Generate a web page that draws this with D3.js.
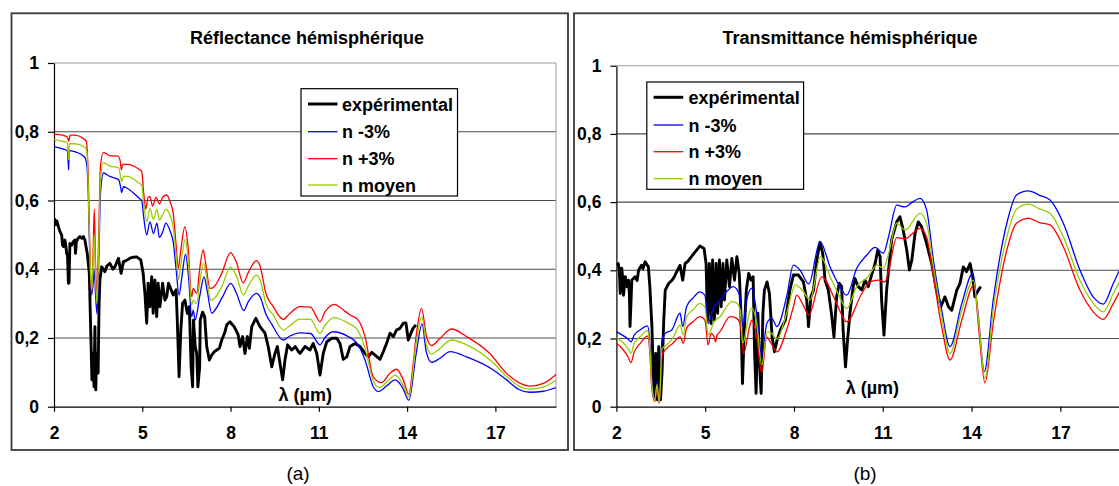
<!DOCTYPE html>
<html>
<head>
<meta charset="utf-8">
<script src="https://cdn.jsdelivr.net/npm/d3@7"></script>
<style>
  html, body { margin: 0; padding: 0; background: #fff; }
  svg { display: block; font-family: "Liberation Sans", Arial, sans-serif; }
</style>
</head>
<body>
<svg id="chart" width="1119" height="486"></svg>
<script>
// ---------------- DATA ----------------
const xTicks = [2, 5, 8, 11, 14, 17];
const yTicks = [0, 0.2, 0.4, 0.6, 0.8, 1];
const seriesNames = ["expérimental", "n -3%", "n +3%", "n moyen"];
const seriesColors = ["#000000", "#0000ff", "#ff0000", "#99cc00"];
const panelTitles = ["Réflectance hémisphérique", "Transmittance hémisphérique"];
const panelLabels = ["(a)", "(b)"];
const axisTitle = "λ (µm)";

// Reflectance (a)
const reflExp = [[2.02,0.548],[2.06,0.53],[2.1,0.54],[2.15,0.524],[2.2,0.51],[2.26,0.50],[2.29,0.47],[2.32,0.466],[2.37,0.485],[2.4,0.47],[2.43,0.446],[2.46,0.44],[2.49,0.359],[2.51,0.36],[2.54,0.475],[2.6,0.47],[2.65,0.48],[2.71,0.485],[2.73,0.446],[2.76,0.48],[2.82,0.49],[2.88,0.495],[2.95,0.49],[3.0,0.495],[3.05,0.485],[3.13,0.446],[3.2,0.388],[3.25,0.214],[3.29,0.078],[3.32,0.155],[3.36,0.058],[3.39,0.233],[3.42,0.049],[3.45,0.155],[3.5,0.098],[3.53,0.291],[3.56,0.369],[3.62,0.407],[3.73,0.393],[3.8,0.41],[3.9,0.417],[4.0,0.40],[4.07,0.407],[4.19,0.432],[4.28,0.388],[4.36,0.422],[4.45,0.425],[4.58,0.432],[4.7,0.435],[4.81,0.436],[4.95,0.427],[5.03,0.388],[5.09,0.33],[5.15,0.243],[5.2,0.359],[5.26,0.291],[5.32,0.378],[5.37,0.272],[5.43,0.369],[5.49,0.262],[5.54,0.359],[5.6,0.291],[5.69,0.359],[5.77,0.31],[5.83,0.32],[5.89,0.359],[5.94,0.349],[6.05,0.325],[6.15,0.34],[6.19,0.252],[6.25,0.087],[6.31,0.223],[6.37,0.301],[6.45,0.31],[6.53,0.272],[6.6,0.291],[6.66,0.116],[6.71,0.058],[6.74,0.252],[6.8,0.175],[6.85,0.155],[6.89,0.058],[6.95,0.116],[6.97,0.252],[7.05,0.275],[7.12,0.262],[7.19,0.175],[7.28,0.136],[7.36,0.15],[7.45,0.16],[7.53,0.165],[7.62,0.17],[7.7,0.194],[7.8,0.215],[7.87,0.238],[7.98,0.247],[8.05,0.24],[8.12,0.233],[8.2,0.22],[8.26,0.209],[8.32,0.175],[8.41,0.204],[8.49,0.155],[8.57,0.204],[8.64,0.17],[8.72,0.233],[8.86,0.257],[9.0,0.233],[9.17,0.214],[9.28,0.175],[9.4,0.116],[9.51,0.155],[9.59,0.175],[9.68,0.126],[9.77,0.078],[9.85,0.136],[9.94,0.18],[10.08,0.165],[10.2,0.175],[10.31,0.16],[10.36,0.155],[10.53,0.175],[10.7,0.165],[10.81,0.184],[10.93,0.155],[11.04,0.092],[11.15,0.155],[11.27,0.189],[11.44,0.199],[11.61,0.199],[11.72,0.184],[11.83,0.138],[11.95,0.145],[12.06,0.175],[12.23,0.184],[12.4,0.175],[12.57,0.155],[12.68,0.145],[12.8,0.158],[12.91,0.15],[13.08,0.138],[13.19,0.16],[13.3,0.184],[13.42,0.214],[13.53,0.204],[13.64,0.223],[13.76,0.228],[13.87,0.243],[13.96,0.244],[14.04,0.194],[14.13,0.214],[14.2,0.228],[14.3,0.238]];
const reflMinus = [[2.0,0.757],[2.3,0.75],[2.45,0.745],[2.49,0.70],[2.5,0.689],[2.51,0.745],[2.7,0.742],[3.05,0.725],[3.12,0.70],[3.17,0.6],[3.22,0.42],[3.28,0.325],[3.33,0.36],[3.37,0.40],[3.41,0.33],[3.46,0.27],[3.52,0.42],[3.58,0.62],[3.68,0.68],[3.9,0.67],[4.2,0.66],[4.26,0.64],[4.3,0.623],[4.36,0.64],[4.5,0.635],[4.9,0.606],[4.98,0.6],[5.05,0.55],[5.15,0.5],[5.26,0.538],[5.38,0.504],[5.5,0.534],[5.58,0.493],[5.7,0.51],[5.8,0.534],[5.95,0.51],[6.05,0.48],[6.15,0.40],[6.25,0.325],[6.35,0.38],[6.47,0.444],[6.57,0.38],[6.68,0.262],[6.73,0.281],[6.8,0.252],[6.95,0.32],[7.1,0.378],[7.2,0.34],[7.36,0.272],[7.5,0.285],[7.7,0.315],[8.01,0.359],[8.2,0.33],[8.45,0.28],[8.6,0.305],[8.88,0.33],[9.0,0.32],[9.2,0.27],[9.4,0.24],[9.79,0.194],[10.0,0.205],[10.36,0.215],[10.72,0.213],[11.04,0.18],[11.2,0.2],[11.49,0.218],[12.0,0.204],[12.3,0.184],[12.57,0.136],[12.85,0.058],[13.02,0.044],[13.3,0.06],[13.59,0.078],[13.85,0.055],[14.06,0.019],[14.3,0.15],[14.51,0.241],[14.65,0.16],[14.83,0.129],[15.12,0.141],[15.46,0.16],[16.02,0.145],[16.93,0.107],[17.38,0.078],[17.8,0.05],[18.17,0.042],[18.63,0.045],[19.08,0.056]];
const reflPlus = [[2.0,0.793],[2.3,0.79],[2.45,0.785],[2.5,0.772],[2.55,0.79],[2.7,0.79],[3.0,0.78],[3.1,0.772],[3.17,0.65],[3.22,0.45],[3.28,0.33],[3.33,0.45],[3.37,0.575],[3.41,0.42],[3.46,0.33],[3.52,0.5],[3.58,0.70],[3.68,0.74],[3.9,0.73],[4.17,0.729],[4.25,0.715],[4.29,0.689],[4.33,0.705],[4.5,0.705],[4.9,0.69],[4.98,0.685],[5.05,0.62],[5.12,0.575],[5.2,0.61],[5.26,0.611],[5.35,0.584],[5.47,0.609],[5.58,0.59],[5.7,0.61],[5.83,0.616],[5.95,0.595],[6.05,0.563],[6.15,0.47],[6.22,0.403],[6.3,0.45],[6.45,0.524],[6.55,0.47],[6.68,0.32],[6.73,0.344],[6.85,0.33],[6.95,0.40],[7.07,0.456],[7.15,0.42],[7.3,0.344],[7.45,0.35],[7.7,0.388],[8.0,0.448],[8.2,0.42],[8.43,0.36],[8.6,0.39],[8.88,0.425],[9.0,0.41],[9.2,0.33],[9.45,0.291],[9.79,0.254],[10.0,0.27],[10.36,0.291],[10.72,0.29],[10.9,0.265],[11.04,0.247],[11.2,0.275],[11.55,0.298],[11.7,0.29],[12.06,0.267],[12.34,0.252],[12.57,0.204],[12.85,0.087],[13.13,0.07],[13.42,0.097],[13.64,0.109],[13.87,0.078],[14.06,0.036],[14.2,0.12],[14.32,0.214],[14.49,0.286],[14.66,0.204],[14.83,0.178],[15.12,0.199],[15.51,0.226],[16.02,0.204],[16.81,0.155],[17.38,0.097],[17.8,0.07],[18.17,0.06],[18.63,0.068],[19.08,0.095]];
const reflMean = [[2.0,0.778],[2.3,0.772],[2.45,0.768],[2.5,0.718],[2.52,0.765],[2.7,0.765],[3.05,0.755],[3.12,0.74],[3.17,0.62],[3.22,0.44],[3.28,0.34],[3.33,0.42],[3.37,0.5],[3.41,0.38],[3.46,0.30],[3.52,0.46],[3.58,0.66],[3.68,0.71],[3.9,0.70],[4.2,0.695],[4.3,0.655],[4.36,0.67],[4.5,0.67],[4.9,0.65],[4.98,0.645],[5.05,0.59],[5.15,0.538],[5.26,0.577],[5.38,0.545],[5.5,0.574],[5.58,0.543],[5.7,0.56],[5.8,0.574],[5.95,0.555],[6.05,0.524],[6.15,0.44],[6.23,0.369],[6.32,0.42],[6.46,0.487],[6.56,0.43],[6.68,0.296],[6.73,0.31],[6.85,0.30],[6.95,0.36],[7.08,0.417],[7.18,0.38],[7.33,0.31],[7.5,0.32],[7.7,0.349],[8.0,0.406],[8.2,0.38],[8.44,0.325],[8.6,0.35],[8.88,0.383],[9.0,0.37],[9.2,0.30],[9.45,0.267],[9.8,0.223],[10.0,0.235],[10.36,0.255],[10.72,0.254],[11.04,0.213],[11.2,0.235],[11.5,0.259],[12.0,0.243],[12.3,0.225],[12.57,0.17],[12.85,0.075],[13.05,0.056],[13.35,0.075],[13.6,0.092],[13.85,0.065],[14.06,0.029],[14.3,0.18],[14.5,0.262],[14.66,0.18],[14.83,0.153],[15.12,0.17],[15.5,0.194],[16.02,0.18],[16.9,0.13],[17.38,0.088],[17.8,0.06],[18.17,0.051],[18.63,0.057],[19.08,0.078]];

// Transmittance (b)
const transExp = [[2.02,0.415],[2.06,0.42],[2.1,0.4],[2.13,0.332],[2.18,0.406],[2.21,0.38],[2.24,0.327],[2.3,0.381],[2.36,0.352],[2.41,0.371],[2.44,0.33],[2.46,0.235],[2.49,0.30],[2.52,0.371],[2.63,0.381],[2.7,0.37],[2.75,0.40],[2.85,0.415],[2.9,0.405],[2.97,0.425],[3.08,0.41],[3.13,0.352],[3.2,0.235],[3.24,0.117],[3.28,0.029],[3.33,0.156],[3.39,0.02],[3.43,0.176],[3.49,0.02],[3.54,0.098],[3.6,0.254],[3.65,0.342],[3.77,0.362],[3.88,0.371],[3.95,0.38],[4.04,0.396],[4.15,0.415],[4.24,0.371],[4.32,0.42],[4.4,0.425],[4.49,0.435],[4.66,0.454],[4.82,0.471],[4.96,0.464],[5.03,0.42],[5.08,0.254],[5.14,0.42],[5.2,0.244],[5.25,0.43],[5.31,0.254],[5.37,0.42],[5.42,0.274],[5.48,0.43],[5.54,0.293],[5.6,0.42],[5.65,0.313],[5.73,0.43],[5.82,0.352],[5.9,0.435],[5.99,0.371],[6.07,0.44],[6.15,0.391],[6.2,0.293],[6.26,0.068],[6.32,0.225],[6.39,0.342],[6.47,0.391],[6.55,0.371],[6.62,0.381],[6.67,0.156],[6.72,0.039],[6.78,0.274],[6.84,0.117],[6.89,0.039],[6.95,0.274],[7.0,0.342],[7.09,0.366],[7.17,0.332],[7.26,0.205],[7.34,0.161],[7.43,0.196],[7.54,0.225],[7.71,0.254],[7.86,0.342],[7.98,0.386],[8.15,0.386],[8.32,0.366],[8.43,0.313],[8.49,0.235],[8.57,0.322],[8.66,0.342],[8.77,0.43],[8.88,0.482],[8.97,0.45],[9.05,0.371],[9.16,0.342],[9.27,0.27],[9.35,0.205],[9.44,0.322],[9.53,0.362],[9.61,0.352],[9.66,0.225],[9.74,0.117],[9.81,0.196],[9.89,0.274],[10.0,0.352],[10.06,0.376],[10.17,0.352],[10.29,0.342],[10.4,0.371],[10.51,0.352],[10.62,0.386],[10.74,0.42],[10.83,0.459],[10.91,0.44],[10.96,0.313],[11.04,0.21],[11.13,0.342],[11.24,0.44],[11.3,0.489],[11.47,0.542],[11.58,0.557],[11.69,0.518],[11.81,0.459],[11.9,0.401],[11.98,0.43],[12.09,0.508],[12.2,0.542],[12.31,0.528],[12.48,0.479],[12.65,0.42],[12.82,0.342],[12.96,0.293],[13.1,0.322],[13.22,0.293],[13.33,0.283],[13.5,0.342],[13.61,0.362],[13.72,0.41],[13.83,0.396],[13.95,0.42],[14.04,0.381],[14.11,0.322],[14.23,0.342],[14.31,0.352]];
const transMinus = [[2.0,0.22],[2.2,0.21],[2.4,0.198],[2.49,0.19],[2.6,0.21],[2.8,0.225],[3.05,0.237],[3.12,0.2],[3.2,0.069],[3.3,0.02],[3.37,0.073],[3.45,0.015],[3.54,0.196],[3.65,0.215],[3.87,0.225],[4.15,0.274],[4.24,0.235],[4.37,0.293],[4.6,0.32],[4.82,0.337],[4.99,0.327],[5.1,0.244],[5.27,0.288],[5.5,0.313],[5.75,0.34],[5.95,0.352],[6.18,0.322],[6.27,0.235],[6.4,0.313],[6.57,0.347],[6.74,0.274],[6.91,0.147],[7.08,0.244],[7.25,0.26],[7.42,0.235],[7.75,0.322],[7.98,0.415],[8.2,0.401],[8.5,0.36],[8.88,0.484],[9.22,0.41],[9.5,0.36],[9.78,0.327],[10.12,0.406],[10.46,0.445],[10.74,0.467],[11.02,0.45],[11.2,0.5],[11.47,0.591],[11.75,0.586],[12.0,0.6],[12.26,0.611],[12.48,0.577],[12.71,0.43],[12.99,0.283],[13.27,0.176],[13.67,0.303],[14.04,0.391],[14.23,0.264],[14.43,0.103],[14.73,0.313],[15.19,0.538],[15.52,0.621],[15.92,0.633],[16.3,0.62],[16.65,0.606],[17.1,0.538],[17.66,0.401],[18.11,0.322],[18.45,0.301],[18.79,0.362],[19.0,0.401],[19.2,0.44]];
const transPlus = [[2.0,0.186],[2.2,0.17],[2.4,0.145],[2.49,0.129],[2.6,0.16],[2.8,0.185],[3.05,0.207],[3.12,0.17],[3.2,0.05],[3.3,0.015],[3.37,0.06],[3.45,0.01],[3.54,0.15],[3.7,0.171],[3.9,0.185],[4.15,0.205],[4.26,0.186],[4.37,0.23],[4.6,0.25],[4.82,0.264],[4.99,0.254],[5.1,0.181],[5.2,0.215],[5.3,0.205],[5.35,0.19],[5.4,0.21],[5.5,0.22],[5.84,0.264],[6.05,0.26],[6.18,0.244],[6.3,0.156],[6.5,0.235],[6.57,0.254],[6.74,0.205],[6.91,0.1],[7.08,0.205],[7.2,0.19],[7.42,0.161],[7.75,0.225],[7.98,0.293],[8.09,0.327],[8.3,0.30],[8.5,0.269],[8.94,0.381],[9.39,0.313],[9.78,0.249],[10.29,0.332],[10.57,0.366],[10.85,0.371],[11.07,0.366],[11.2,0.4],[11.47,0.496],[11.75,0.493],[12.26,0.523],[12.48,0.498],[12.71,0.381],[12.99,0.234],[13.27,0.137],[13.67,0.254],[14.08,0.357],[14.25,0.22],[14.45,0.07],[14.73,0.244],[15.19,0.459],[15.52,0.538],[15.92,0.552],[16.3,0.54],[16.65,0.533],[17.1,0.469],[17.66,0.342],[18.11,0.278],[18.45,0.256],[18.79,0.303],[19.0,0.337],[19.2,0.37]];
const transMean = [[2.0,0.203],[2.2,0.19],[2.4,0.17],[2.49,0.156],[2.6,0.185],[2.8,0.205],[3.05,0.223],[3.12,0.185],[3.2,0.06],[3.3,0.018],[3.37,0.065],[3.45,0.012],[3.54,0.17],[3.7,0.181],[3.9,0.2],[4.15,0.24],[4.26,0.21],[4.37,0.264],[4.6,0.285],[4.82,0.303],[4.99,0.293],[5.1,0.21],[5.3,0.249],[5.5,0.264],[5.9,0.308],[6.05,0.305],[6.18,0.283],[6.27,0.186],[6.5,0.278],[6.57,0.29],[6.74,0.244],[6.91,0.122],[7.1,0.22],[7.25,0.215],[7.42,0.198],[7.75,0.274],[8.05,0.357],[8.3,0.34],[8.54,0.313],[8.9,0.44],[9.22,0.381],[9.5,0.33],[9.78,0.288],[10.12,0.352],[10.5,0.381],[10.8,0.415],[11.02,0.406],[11.2,0.45],[11.47,0.538],[11.75,0.518],[12.26,0.567],[12.48,0.538],[12.71,0.41],[12.99,0.264],[13.27,0.156],[13.67,0.283],[14.06,0.371],[14.25,0.24],[14.45,0.083],[14.73,0.283],[15.19,0.498],[15.52,0.579],[15.92,0.594],[16.3,0.58],[16.65,0.567],[17.1,0.498],[17.66,0.371],[18.11,0.303],[18.45,0.278],[18.79,0.332],[19.0,0.366],[19.2,0.40]];

// ---------------- DRAW ----------------
const svg = d3.select("#chart");
const FONT = '"Liberation Sans", Arial, sans-serif';
const FS = 18;

const panels = [
  { frame: [11.5, 13.3, 556.5, 436.7], plot: { x0: 54, x1: 556, y0: 406.7, y1: 63 }, xMax: 19.06,
    series: [reflExp, reflMinus, reflPlus, reflMean], title: panelTitles[0], titleX: 307,
    legend: { x: 301, y: 88.7, w: 156.5, h: 107.3, rows: [104, 131.7, 158.7, 185], lx0: 308, lx1: 337.5, tx: 342 },
    axisTitle: { x: 278.6, y: 401 }, label: { x: 298, y: 480 }, labelText: panelLabels[0], rightBorder: true },
  { frame: [574, 13.3, 560, 436.7], plot: { x0: 616.4, x1: 1125.5, y0: 406.7, y1: 65.7 }, xMax: 19.2,
    series: [transExp, transMinus, transPlus, transMean], title: panelTitles[1], titleX: 850,
    legend: { x: 646.8, y: 82, w: 156.8, h: 107.3, rows: [97.3, 125, 151.7, 178.7], lx0: 653.6, lx1: 683.2, tx: 688.6 },
    axisTitle: { x: 845.7, y: 394 }, label: { x: 865, y: 480 }, labelText: panelLabels[1], rightBorder: false }
];

const fmt = d => d === 0 ? "0" : d === 1 ? "1" : String(d).replace(".", ",");

panels.forEach((p, i) => {
  const g = svg.append("g");
  g.append("rect").attr("x", p.frame[0]).attr("y", p.frame[1]).attr("width", p.frame[2]).attr("height", p.frame[3])
    .attr("fill", "#fff").attr("stroke", "#3a3a3a").attr("stroke-width", 1.8);

  const x = d3.scaleLinear().domain([2, p.xMax]).range([p.plot.x0, p.plot.x1]);
  const y = d3.scaleLinear().domain([0, 1]).range([p.plot.y0, p.plot.y1]);

  const clipId = "clip" + i;
  svg.append("clipPath").attr("id", clipId).append("rect")
    .attr("x", p.plot.x0).attr("y", p.plot.y1 - 2).attr("width", p.plot.x1 - p.plot.x0).attr("height", p.plot.y0 - p.plot.y1 + 4);

  g.append("g").selectAll("line").data(yTicks.filter(t => t > 0)).join("line")
    .attr("x1", p.plot.x0).attr("x2", p.plot.x1)
    .attr("y1", d => y(d)).attr("y2", d => y(d))
    .attr("stroke", d => d === 1 ? "#9a9a9a" : "#4a4a4a").attr("stroke-width", 1.1);
  if (p.rightBorder) {
    g.append("line").attr("x1", p.plot.x1).attr("x2", p.plot.x1).attr("y1", p.plot.y1).attr("y2", p.plot.y0)
      .attr("stroke", "#9a9a9a").attr("stroke-width", 1);
  }

  const yAxis = d3.axisLeft(y).tickValues(yTicks).tickFormat(fmt).tickSize(6).tickSizeOuter(0).tickPadding(9);
  const ya = g.append("g").attr("transform", `translate(${p.plot.x0},0)`).call(yAxis);
  const xAxis = d3.axisBottom(x).tickValues(xTicks).tickFormat(d3.format("d")).tickSize(5).tickSizeOuter(0).tickPadding(15);
  const xa = g.append("g").attr("transform", `translate(0,${p.plot.y0})`).call(xAxis);
  [ya, xa].forEach(a => {
    a.select(".domain").attr("stroke", "#000").attr("stroke-width", 1.2);
    a.selectAll(".tick line").attr("stroke", "#000").attr("stroke-width", 1.2);
    a.selectAll(".tick text").attr("font-family", FONT).attr("font-size", 17.5).attr("font-weight", "bold").attr("fill", "#000");
  });

  const plotG = g.append("g").attr("clip-path", `url(#${clipId})`);
  const lineExp = d3.line().x(d => x(d[0])).y(d => y(d[1]));
  const lineModel = d3.line().x(d => x(d[0])).y(d => y(d[1])).curve(d3.curveMonotoneX);
  plotG.append("path").datum(p.series[0]).attr("d", lineExp).attr("fill", "none")
    .attr("stroke", seriesColors[0]).attr("stroke-width", 2.9).attr("stroke-linejoin", "round");
  [1, 2, 3].forEach(k => {
    plotG.append("path").datum(p.series[k]).attr("d", lineModel).attr("fill", "none")
      .attr("stroke", seriesColors[k]).attr("stroke-width", 1.3).attr("stroke-linejoin", "round");
  });

  g.append("text").attr("x", p.titleX).attr("y", 44).attr("text-anchor", "middle")
    .attr("font-family", FONT).attr("font-size", FS).attr("font-weight", "bold").text(p.title);

  g.append("text").attr("x", p.axisTitle.x).attr("y", p.axisTitle.y)
    .attr("font-family", FONT).attr("font-size", FS).attr("font-weight", "bold").text(axisTitle);

  const L = p.legend;
  const lg = g.append("g");
  lg.append("rect").attr("x", L.x).attr("y", L.y).attr("width", L.w).attr("height", L.h)
    .attr("fill", "#fff").attr("stroke", "#000").attr("stroke-width", 1.2);
  seriesNames.forEach((name, k) => {
    lg.append("line").attr("x1", L.lx0).attr("x2", L.lx1).attr("y1", L.rows[k]).attr("y2", L.rows[k])
      .attr("stroke", seriesColors[k]).attr("stroke-width", k === 0 ? 3 : 1.3);
    lg.append("text").attr("x", L.tx).attr("y", L.rows[k] + 6.5)
      .attr("font-family", FONT).attr("font-size", FS).attr("font-weight", "bold").text(name);
  });

  svg.append("text").attr("x", p.label.x).attr("y", p.label.y).attr("text-anchor", "middle")
    .attr("font-family", FONT).attr("font-size", 19).text(p.labelText);
});
</script>
</body>
</html>
